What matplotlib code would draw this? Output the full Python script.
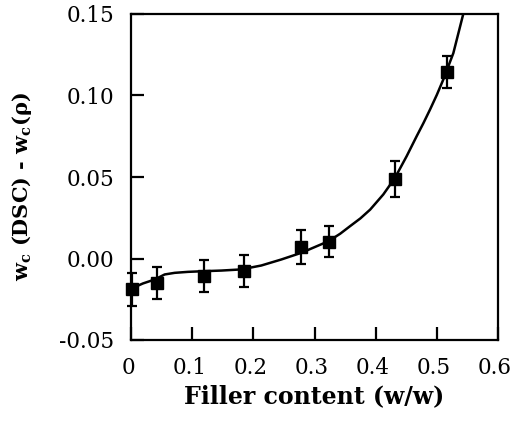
import matplotlib
matplotlib.use("Agg")
import matplotlib.pyplot as plt
import matplotlib.transforms as mtransforms

# Measured data
filler = [0.002, 0.042, 0.120, 0.184, 0.278, 0.323, 0.431, 0.516]
delta_wc = [-0.019, -0.015, -0.011, -0.0078, 0.0072, 0.0102, 0.049, 0.1143]
errors = [0.010, 0.0098, 0.0098, 0.0098, 0.0105, 0.0095, 0.011, 0.0098]

# Fitted curve
fit_x = [0.0, 0.0033, 0.0196, 0.0387, 0.055, 0.0714, 0.093, 0.1177, 0.1477,
         0.180, 0.213, 0.2458, 0.2785, 0.3166, 0.3254, 0.342, 0.358, 0.375,
         0.391, 0.4125, 0.4316, 0.4507, 0.467, 0.478, 0.4889, 0.500, 0.5106,
         0.527, 0.543]
fit_y = [-0.0183, -0.0180, -0.0153, -0.0129, -0.0098, -0.0088, -0.0082, -0.0078,
         -0.0074, -0.0067, -0.0043, -0.0006, 0.0035, 0.0096, 0.0112, 0.0152,
         0.0198, 0.0246, 0.0300, 0.0393, 0.0495, 0.0628, 0.0750, 0.0830,
         0.0914, 0.1004, 0.1098, 0.1260, 0.1497]

xticks = [0, 0.1, 0.2, 0.3, 0.4, 0.5, 0.6]
xticklabels = ["0", "0.1", "0.2", "0.3", "0.4", "0.5", "0.6"]
yticks = [-0.05, 0.0, 0.05, 0.10, 0.15]
yticklabels = ["-0.05", "0.00", "0.05", "0.10", "0.15"]

plt.rcParams["font.family"] = ["DejaVu Serif"]
plt.rcParams["mathtext.fontset"] = "dejavuserif"

fig = plt.figure(figsize=(5.14, 4.26), dpi=100)
ax = fig.add_axes([131 / 514, 86 / 426, 367 / 514, 326 / 426])

ax.plot(fit_x, fit_y, color="black", lw=1.8, zorder=2,
        solid_joinstyle="round")
ax.errorbar(filler, delta_wc, yerr=errors, fmt="s", color="black",
            ms=8.5, elinewidth=1.6, capsize=3.8, capthick=1.6,
            clip_on=False, zorder=3)

ax.set_xlim(0, 0.6)
ax.set_ylim(-0.05, 0.15)
ax.set_xticks(xticks)
ax.set_xticklabels(xticklabels)
ax.set_yticks(yticks)
ax.set_yticklabels(yticklabels)
ax.tick_params(direction="in", length=9.5, width=1.6, labelsize=15.5, pad=12)
for s in ax.spines.values():
    s.set_linewidth(1.6)

shift = mtransforms.ScaledTranslation(-3 / 100, 0, fig.dpi_scale_trans)
for lbl in ax.get_xticklabels():
    lbl.set_transform(lbl.get_transform() + shift)

ax.set_xlabel("Filler content (w/w)", fontsize=17, fontweight="bold", labelpad=4)
ax.set_ylabel(r"$\mathbf{w_c}$ (DSC) - $\mathbf{w_c}$(ρ)", fontsize=15,
              fontweight="bold")
ax.yaxis.set_label_coords(-0.265, 0.47)

fig.savefig("out.png", dpi=100)
